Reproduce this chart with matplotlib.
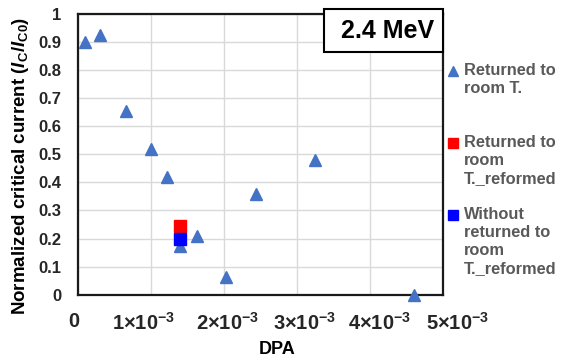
import matplotlib
matplotlib.use("Agg")
import matplotlib.pyplot as plt
from matplotlib.lines import Line2D
from matplotlib.patches import Rectangle
from matplotlib.transforms import ScaledTranslation

plt.rcParams['font.family'] = ['Liberation Sans', 'DejaVu Sans']
plt.rcParams['mathtext.fontset'] = 'custom'
plt.rcParams['mathtext.rm'] = 'Liberation Sans:bold'
plt.rcParams['mathtext.bf'] = 'Liberation Sans:bold'
plt.rcParams['mathtext.it'] = 'Liberation Sans:bold:italic'

# datos
dpa_rt = [0.1e-3, 0.3e-3, 0.65e-3, 1.0e-3, 1.22e-3, 1.4e-3, 1.63e-3, 2.03e-3, 2.44e-3, 3.25e-3, 4.6e-3]
ic_rt = [0.90, 0.925, 0.655, 0.52, 0.42, 0.175, 0.21, 0.065, 0.36, 0.48, 0.0]
dpa_rt_ref = [1.4e-3]
ic_rt_ref = [0.245]
dpa_wo_ref = [1.4e-3]
ic_wo_ref = [0.197]

xticks = [0, 1e-3, 2e-3, 3e-3, 4e-3, 5e-3]
xticklabels = [r'$0$', r'$1{\times}10^{-3}$', r'$2{\times}10^{-3}$', r'$3{\times}10^{-3}$',
               r'$4{\times}10^{-3}$', r'$5{\times}10^{-3}$']
yticks = [0, 0.1, 0.2, 0.3, 0.4, 0.5, 0.6, 0.7, 0.8, 0.9, 1]
yticklabels = ['0', '0.1', '0.2', '0.3', '0.4', '0.5', '0.6', '0.7', '0.8', '0.9', '1']

legend_labels = ['Returned to\nroom T.', 'Returned to\nroom\nT._reformed',
                 'Without\nreturned to\nroom\nT._reformed']

c_tri = '#4472C4'
c_red = '#FF0000'
c_blue = '#0000FF'

fig = plt.figure(figsize=(5.66, 3.6), dpi=100)
ax = fig.add_axes([0.138, 0.181, 0.645, 0.781])

ax.plot(dpa_rt, ic_rt, ls='none', marker='^', ms=9, color=c_tri, clip_on=False, zorder=3)
ax.plot(dpa_rt_ref, ic_rt_ref, ls='none', marker='s', ms=9, color=c_red, zorder=4)
ax.plot(dpa_wo_ref, ic_wo_ref, ls='none', marker='s', ms=9, color=c_blue, zorder=4)

ax.set_xlim(0, 5e-3)
ax.set_ylim(0, 1)
ax.set_xticks(xticks)
ax.set_xticklabels(xticklabels, fontsize=14.5)
ax.set_yticks(yticks)
ax.set_yticklabels(yticklabels, fontsize=12, fontweight='bold')
ax.tick_params(length=0, colors='#262626')
ax.tick_params(axis='x', pad=12)
ax.tick_params(axis='y', pad=12)
# las etiquetas del original no caen justo sobre la grilla
for lbl, dx in zip(ax.get_xticklabels(), [-4, -8, 3, 7, 9, 14]):
    lbl.set_transform(lbl.get_transform() + ScaledTranslation(dx / 100, 0, fig.dpi_scale_trans))
ax.grid(color='#D9D9D9', lw=1)
ax.set_axisbelow(True)
for s in ax.spines.values():
    s.set_linewidth(1.6)
    s.set_color('#1a1a1a')

ax.set_xlabel('DPA', fontsize=13, fontweight='bold')
ax.xaxis.set_label_coords(0.545, -0.165)
ax.set_ylabel(r'Normalized critical current ($I_{\rm C}$/$I_{\rm C0}$)',
              fontsize=13.5, fontweight='bold')
ax.yaxis.set_label_coords(-0.13, 0.46)

# recuadro 2.4 MeV
ax.add_patch(Rectangle((0.674, 0.865), 0.326, 0.15, transform=ax.transAxes,
                       facecolor='white', edgecolor='black', lw=1.5, clip_on=False, zorder=5))
ax.text(0.848, 0.94, '2.4 MeV', transform=ax.transAxes, ha='center', va='center',
        fontsize=18, fontweight='bold', zorder=6)

# leyenda manual
leg_y = [0.803, 0.603, 0.403]
leg_m = [('^', c_tri), ('s', c_red), ('s', c_blue)]
for y, (m, c), lab in zip(leg_y, leg_m, legend_labels):
    fig.add_artist(Line2D([0.801], [y], marker=m, color=c, ms=7, ls='none',
                          transform=fig.transFigure))
    fig.text(0.819, y + 0.022, lab, ha='left', va='top', fontsize=11.8,
             fontweight='bold', color='#595959', linespacing=1.25)

fig.savefig('out.png', dpi=100)
